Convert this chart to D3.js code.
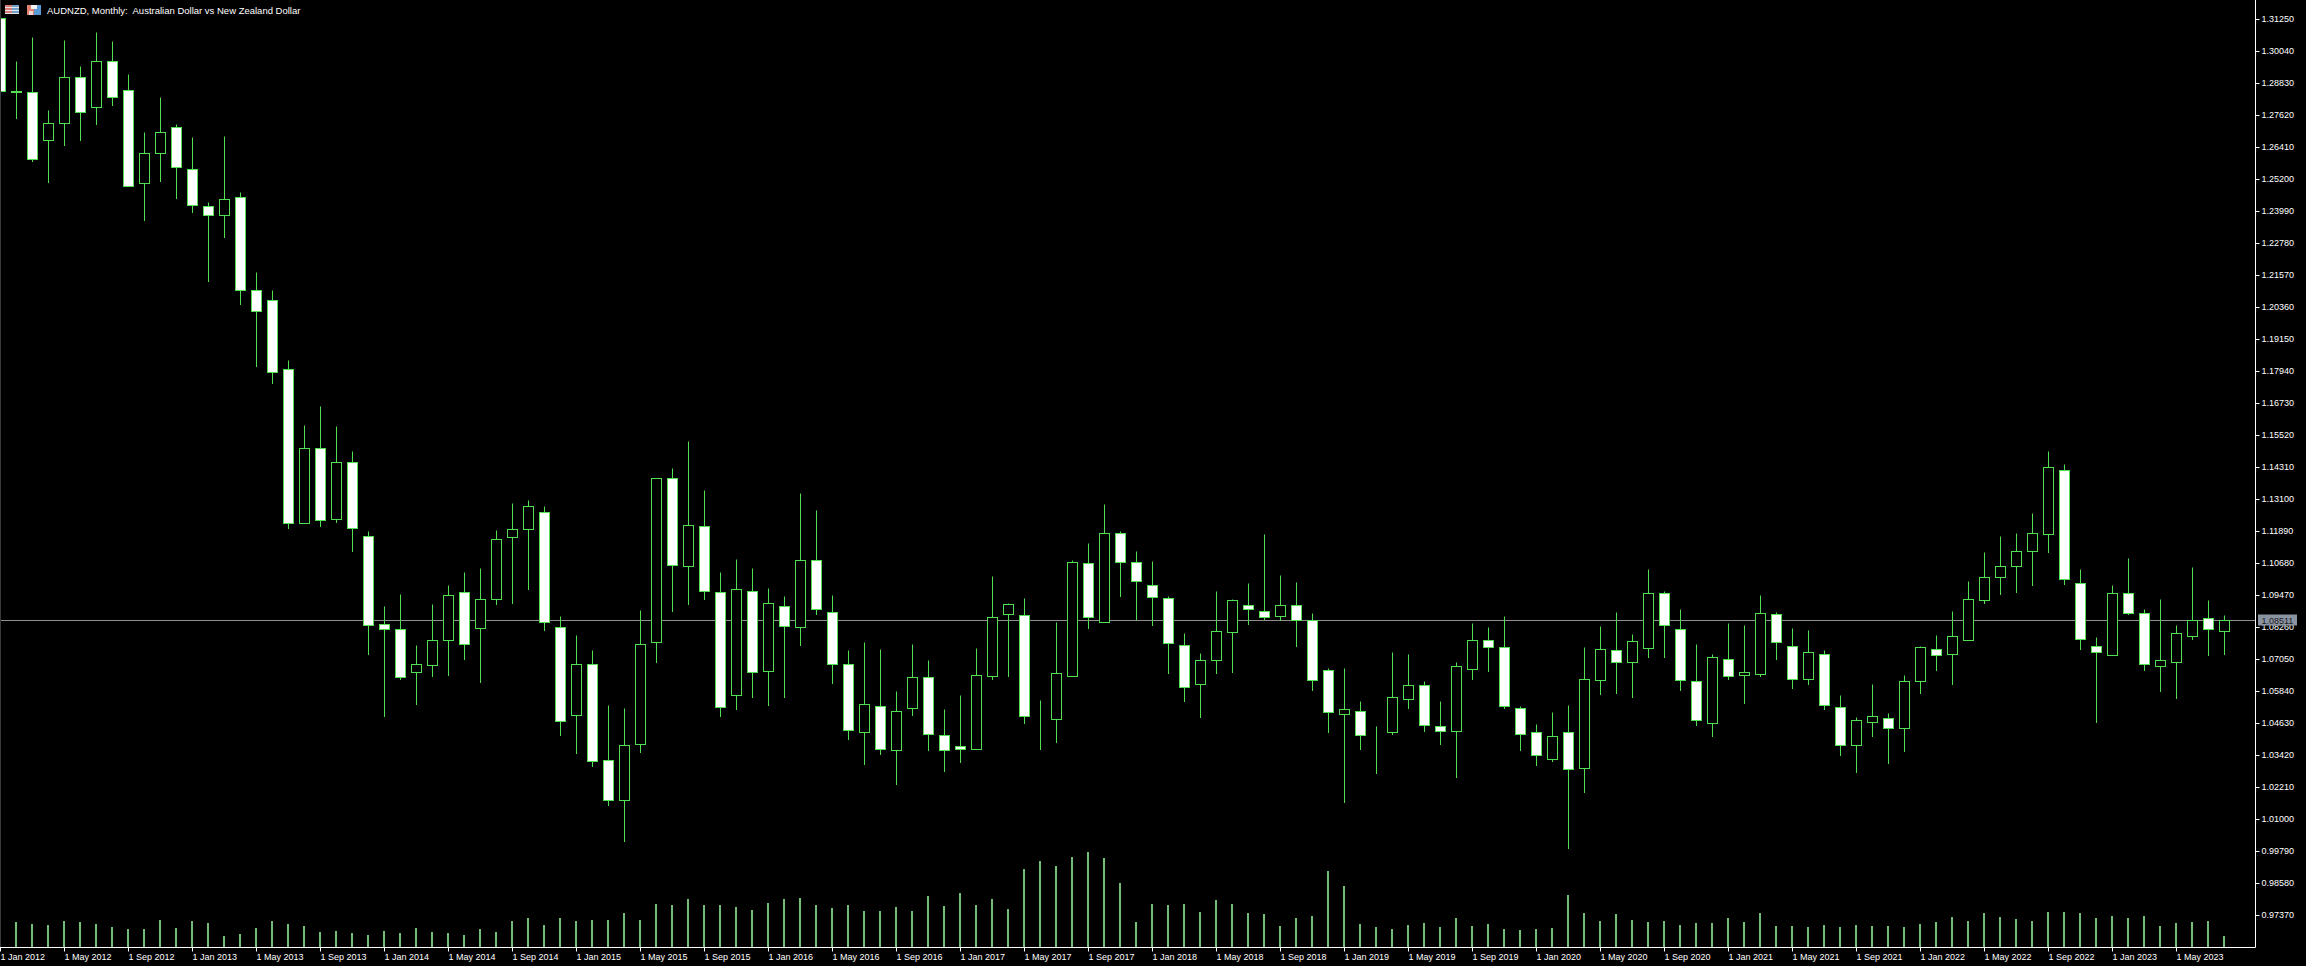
<!DOCTYPE html>
<html>
<head>
<meta charset="utf-8">
<title>AUDNZD Monthly</title>
<script src="https://cdn.jsdelivr.net/npm/d3@7"></script>
<style>
    html, body { margin: 0; padding: 0; background: #000; overflow: hidden; }
    text { font-family: "Liberation Sans", sans-serif; }
</style>
</head>
<body>
<div id="chart"></div>
<script>
// monthly candles, Jan 2012 to Aug 2023
const opens = [
    1.31287,1.28527,1.28489,1.26674,1.27317,1.29056,1.27922,1.29661,1.28565,1.25049,
    1.26183,1.27166,1.25578,1.24178,1.23838,1.24519,1.21002,1.20624,1.18015,1.12192,
    1.15028,1.12344,1.14499,1.11701,1.08372,1.08183,1.06557,1.06822,1.07767,1.09583,
    1.08221,1.09319,1.11663,1.11965,1.12608,1.08259,1.04932,1.06860,1.03230,1.01718,
    1.03835,1.07692,1.13894,1.10566,1.12079,1.09583,1.05688,1.09621,1.06595,1.09053,
    1.08259,1.10793,1.08826,1.06860,1.04289,1.05272,1.03608,1.05196,1.06368,1.04176,
    1.03760,1.03646,1.06406,1.08751,1.08713,1.04818,1.04781,1.06406,1.10680,1.08448,
    1.11814,1.10718,1.09848,1.09356,1.07578,1.06104,1.07011,1.08070,1.09091,1.08864,
    1.08675,1.09091,1.08524,1.06633,1.04970,1.05083,1.04213,1.04289,1.05537,1.06066,
    1.04516,1.04327,1.06671,1.07767,1.07503,1.05196,1.04289,1.03268,1.04289,1.02928,
    1.06255,1.07389,1.06936,1.07465,1.09545,1.08183,1.06217,1.04629,1.07049,1.06444,
    1.06482,1.08751,1.07541,1.06293,1.07238,1.05234,1.03797,1.04667,1.04818,1.04440,
    1.06217,1.07427,1.07238,1.07767,1.09280,1.10150,1.10566,1.11133,1.11776,1.14196,
    1.09924,1.07541,1.07200,1.09545,1.08789,1.06784,1.06936,1.07919,1.08599,1.08108
];
const highs = [
    1.31287,1.29661,1.30569,1.27809,1.30455,1.29472,1.30758,1.30418,1.29170,1.26977,
    1.28300,1.27279,1.26788,1.24329,1.26826,1.24708,1.21682,1.21002,1.18355,1.15898,
    1.16616,1.15860,1.14915,1.11890,1.09053,1.09508,1.07578,1.09129,1.09848,1.10339,
    1.10491,1.11928,1.12949,1.13062,1.12835,1.08675,1.07957,1.07389,1.05310,1.05196,
    1.08902,1.13894,1.14272,1.15293,1.13440,1.10339,1.10831,1.10491,1.09734,1.09432,
    1.13326,1.12684,1.09470,1.07389,1.07692,1.07427,1.05839,1.07616,1.07011,1.05159,
    1.05688,1.07465,1.10188,1.09167,1.09356,1.05499,1.08448,1.10793,1.11436,1.12911,
    1.11890,1.11133,1.10755,1.09432,1.08032,1.07276,1.09621,1.09319,1.09924,1.11776,
    1.10226,1.09961,1.08789,1.06709,1.06709,1.05461,1.04516,1.07314,1.07238,1.06217,
    1.05461,1.06936,1.08410,1.08259,1.08675,1.05272,1.04591,1.05045,1.05310,1.07503,
    1.08297,1.08826,1.07994,1.10453,1.09621,1.08940,1.07616,1.07238,1.08410,1.08335,
    1.09470,1.08826,1.08221,1.08146,1.07389,1.05688,1.04856,1.06104,1.05008,1.06444,
    1.07541,1.07957,1.08864,1.09999,1.11096,1.11701,1.11814,1.12571,1.14915,1.14423,
    1.10453,1.07881,1.09848,1.10869,1.08940,1.09319,1.08335,1.10529,1.09280,1.08713
];
const lows = [
    1.28527,1.27506,1.25880,1.25086,1.26485,1.26674,1.27279,1.27998,1.24935,1.23649,
    1.25124,1.24481,1.23951,1.21342,1.23006,1.20473,1.18128,1.17486,1.12003,1.12192,
    1.12079,1.12230,1.11133,1.07238,1.04894,1.06293,1.05348,1.06406,1.06444,1.07049,
    1.06179,1.09129,1.09167,1.09697,1.08146,1.04176,1.03495,1.03003,1.01529,1.00168,
    1.03533,1.06936,1.08864,1.09129,1.09319,1.04894,1.05159,1.05612,1.05310,1.05612,
    1.07578,1.08751,1.06142,1.04024,1.03079,1.03457,1.02323,1.04932,1.03608,1.02814,
    1.03155,1.03646,1.06293,1.06406,1.04629,1.03646,1.03911,1.06406,1.08221,1.08448,
    1.09432,1.08562,1.08335,1.06520,1.05461,1.04856,1.06520,1.06557,1.08372,1.08562,
    1.08524,1.07541,1.05877,1.04289,1.01642,1.03646,1.02739,1.04213,1.05196,1.04327,
    1.03835,1.02587,1.06293,1.06595,1.05196,1.03608,1.03041,1.03192,0.99903,1.02020,
    1.05745,1.05782,1.05612,1.07125,1.07125,1.05877,1.04554,1.04138,1.06293,1.05386,
    1.06406,1.07049,1.05952,1.06104,1.05159,1.03419,1.02776,1.04138,1.03117,1.03571,
    1.05782,1.06633,1.06104,1.07767,1.09167,1.09508,1.09583,1.09848,1.11096,1.09886,
    1.07427,1.04667,1.07200,1.08751,1.06633,1.05839,1.05574,1.07805,1.07200,1.07238
];
const closes = [
    1.28527,1.28489,1.25956,1.27317,1.29056,1.27733,1.29661,1.28300,1.24935,1.26183,
    1.26977,1.25654,1.24216,1.23838,1.24444,1.21002,1.20208,1.17901,1.12192,1.15028,
    1.12306,1.14499,1.12003,1.08335,1.08183,1.06368,1.06860,1.07767,1.09470,1.07616,
    1.09319,1.11587,1.11965,1.12835,1.08448,1.04705,1.06860,1.03192,1.01718,1.03797,
    1.07616,1.13894,1.10604,1.12117,1.09621,1.05234,1.09697,1.06557,1.09167,1.08297,
    1.10793,1.08940,1.06860,1.04365,1.05348,1.03646,1.05083,1.06368,1.04213,1.03608,
    1.03646,1.06444,1.08637,1.09129,1.04894,1.04818,1.06520,1.10718,1.08637,1.11814,
    1.10718,1.09999,1.09394,1.07654,1.05990,1.07011,1.08108,1.09280,1.08940,1.08637,
    1.09091,1.08524,1.06255,1.05045,1.05159,1.04176,1.04213,1.05612,1.06066,1.04554,
    1.04327,1.06784,1.07767,1.07503,1.05272,1.04213,1.03419,1.04138,1.02890,1.06293,
    1.07427,1.06936,1.07730,1.09545,1.08335,1.06255,1.04743,1.07125,1.06406,1.06557,
    1.08789,1.07692,1.06293,1.07314,1.05310,1.03797,1.04743,1.04894,1.04440,1.06217,
    1.07503,1.07200,1.07919,1.09319,1.10150,1.10566,1.11133,1.11814,1.14310,1.10075,
    1.07805,1.07314,1.09545,1.08789,1.06860,1.07011,1.08032,1.08524,1.08183,1.08524
];
// tick volume, thousands (estimated)
const volumes = [
    25,25,23,22,26,25,23,20,18,18,
    27,19,26,24,11,13,19,26,23,21,
    15,16,14,12,16,14,19,15,14,12,
    18,15,26,29,22,29,26,27,27,34,
    27,43,42,48,42,42,40,37,44,48,
    49,42,39,42,36,36,40,36,51,41,
    54,42,48,38,78,86,81,90,95,89,
    64,25,43,42,43,35,47,43,34,33,
    21,29,31,76,61,23,20,18,22,24,
    20,29,21,23,18,17,18,19,52,34,
    26,33,27,25,26,22,24,24,29,25,
    34,21,21,20,22,20,22,21,21,20,
    23,25,30,26,34,30,28,26,35,35,
    34,29,31,29,31,21,24,25,26,11
];
const priceTicks = [
    1.31250,1.30040,1.28830,1.27620,1.26410,1.25200,1.23990,1.22780,1.21570,1.20360,
    1.19150,1.17940,1.16730,1.15520,1.14310,1.13100,1.11890,1.10680,1.09470,1.08260,
    1.07050,1.05840,1.04630,1.03420,1.02210,1.01000,0.99790,0.98580,0.97370
];
const timeLabels = [
    "1 Jan 2012","1 May 2012","1 Sep 2012","1 Jan 2013","1 May 2013","1 Sep 2013",
    "1 Jan 2014","1 May 2014","1 Sep 2014","1 Jan 2015","1 May 2015","1 Sep 2015",
    "1 Jan 2016","1 May 2016","1 Sep 2016","1 Jan 2017","1 May 2017","1 Sep 2017",
    "1 Jan 2018","1 May 2018","1 Sep 2018","1 Jan 2019","1 May 2019","1 Sep 2019",
    "1 Jan 2020","1 May 2020","1 Sep 2020","1 Jan 2021","1 May 2021","1 Sep 2021",
    "1 Jan 2022","1 May 2022","1 Sep 2022","1 Jan 2023","1 May 2023"
];
const lastPrice = 1.08511;
const title = "AUDNZD, Monthly:  Australian Dollar vs New Zealand Dollar";

const width = 2306, height = 966;
const axisX = 2255.5, axisY = 947.5;
const candleColor = "#52e052", volumeColor = "#74bd74";

const svg = d3.select("#chart")
    .append("svg")
    .attr("width", width)
    .attr("height", height)
    .style("display", "block")
    .style("background", "#000");

svg.append("defs").append("clipPath")
    .attr("id", "plot")
    .append("rect")
    .attr("x", 1)
    .attr("y", 0)
    .attr("width", axisX - 1)
    .attr("height", axisY);

const x = d3.scaleLinear().domain([0, 139]).range([0.5, 2224.5]);
const y = d3.scaleLinear().domain([1.3125, 0.9737]).range([19.5, 915.5]);
const v = d3.scaleLinear().domain([0, 100]).range([947, 847]);

// snap to a pixel row so the 1px strokes stay sharp
const row = p => Math.round(y(p) - 0.5) + 0.5;

const candles = d3.range(opens.length).map(i => ({
    i, open: opens[i], high: highs[i], low: lows[i], close: closes[i], volume: volumes[i]
}));

const plot = svg.append("g").attr("clip-path", "url(#plot)");

plot.selectAll(".vol")
    .data(candles)
    .enter()
    .append("rect")
    .attr("class", "vol")
    .attr("x", d => x(d.i) - 1.5)
    .attr("y", d => v(d.volume))
    .attr("width", 2)
    .attr("height", d => v(0) - v(d.volume))
    .attr("fill", volumeColor);

plot.append("line")
    .attr("x1", 0)
    .attr("x2", axisX)
    .attr("y1", row(lastPrice))
    .attr("y2", row(lastPrice))
    .attr("stroke", "#8e8e8e");

plot.selectAll(".wick")
    .data(candles)
    .enter()
    .append("line")
    .attr("class", "wick")
    .attr("x1", d => x(d.i))
    .attr("x2", d => x(d.i))
    .attr("y1", d => row(d.high))
    .attr("y2", d => row(d.low) + 0.5)
    .attr("stroke", candleColor);

plot.selectAll(".body")
    .data(candles)
    .enter()
    .append("rect")
    .attr("class", "body")
    .attr("x", d => x(d.i) - 5)
    .attr("y", d => row(Math.max(d.open, d.close)))
    .attr("width", 10)
    .attr("height", d => row(Math.min(d.open, d.close)) - row(Math.max(d.open, d.close)))
    .attr("fill", d => d.close < d.open ? "#fff" : "#000")
    .attr("stroke", candleColor);

// left edge of the window
svg.append("line")
    .attr("x1", 0.5).attr("x2", 0.5)
    .attr("y1", 0).attr("y2", axisY)
    .attr("stroke", "#3a3a3a");

const priceAxis = svg.append("g")
    .attr("transform", `translate(${axisX}, 0)`)
    .call(d3.axisRight(y)
        .tickValues(priceTicks)
        .tickFormat(d3.format(".5f"))
        .tickSizeOuter(0)
        .tickSize(4)
        .tickPadding(2)
        .offset(0));
priceAxis.select(".domain").attr("d", `M0,0V${axisY}`);

const timeAxis = svg.append("g")
    .attr("transform", `translate(0, ${axisY})`)
    .call(d3.axisBottom(x)
        .tickValues(d3.range(0, 140, 4))
        .tickFormat((d, i) => timeLabels[i])
        .tickSizeOuter(0)
        .tickSize(4)
        .offset(0));
timeAxis.select(".domain").attr("d", `M0,0H${axisX}`);
timeAxis.selectAll("text")
    .attr("text-anchor", "start")
    .attr("y", 6)
    .attr("dy", "0.71em");

svg.selectAll(".domain, .tick line").attr("stroke", "#fff");
svg.selectAll(".tick text")
    .attr("fill", "#fff")
    .attr("font-family", "'Liberation Sans', sans-serif")
    .attr("font-size", 9);

// current price tag
svg.append("rect")
    .attr("x", 2258)
    .attr("y", row(lastPrice) - 6)
    .attr("width", 39)
    .attr("height", 11)
    .attr("fill", "#8a93a1");
svg.append("text")
    .attr("x", 2261.5)
    .attr("y", row(lastPrice) + 3)
    .attr("font-size", 9)
    .attr("fill", "#1c1c1c")
    .text(d3.format(".5f")(lastPrice));

svg.append("text")
    .attr("x", 47)
    .attr("y", 13.5)
    .attr("font-size", 9.5)
    .attr("fill", "#fff")
    .style("white-space", "pre")
    .text(title);

// the two little header icons
const icons = svg.append("g");
[5, 8, 11].forEach(r => {
    icons.append("rect").attr("x", 5).attr("y", r).attr("width", 7).attr("height", 2).attr("fill", "#d87a78");
    icons.append("rect").attr("x", 12).attr("y", r).attr("width", 7).attr("height", 2).attr("fill", "#6fa0cc");
    icons.append("rect").attr("x", 5).attr("y", r + 2).attr("width", 14).attr("height", 1).attr("fill", "#e6e6e6");
});
icons.append("rect").attr("x", 27).attr("y", 5).attr("width", 7).attr("height", 10).attr("fill", "#e08070");
icons.append("rect").attr("x", 34).attr("y", 5).attr("width", 7).attr("height", 10).attr("fill", "#5a9ad4");
icons.append("rect").attr("x", 31).attr("y", 5).attr("width", 6).attr("height", 4).attr("fill", "#f2f2f2");
icons.append("rect").attr("x", 29).attr("y", 11).attr("width", 4).attr("height", 4).attr("fill", "#f2d8d0");
</script>
</body>
</html>
